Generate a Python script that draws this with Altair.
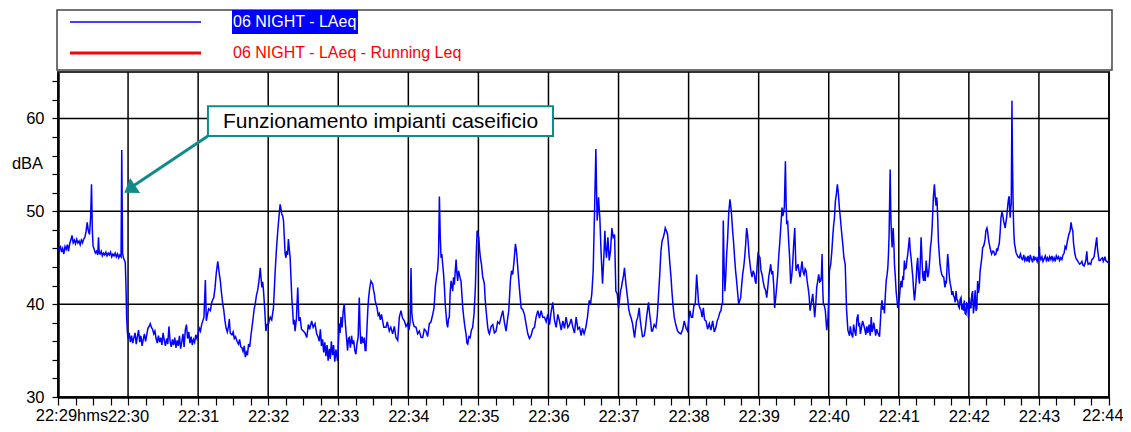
import altair as alt
import pandas as pd

FONT = "Liberation Sans, Arial, sans-serif"
TEAL = "#128a8a"
BLUE = "#0000ff"

# ---- axis / tick definitions -------------------------------------------------
minute_labels = ["22:29hms", "22:30", "22:31", "22:32", "22:33", "22:34", "22:35", "22:36",
                 "22:37", "22:38", "22:39", "22:40", "22:41", "22:42", "22:43", "22:44"]
x_tick_seconds = list(range(0, 901, 15))
grid_minutes = list(range(60, 901, 60))
y_tick_values = list(range(30, 65, 2))
grid_levels = [40, 50, 60]
x_domain = [0, 900]
y_domain = [30, 65]

legend_labels = ["06 NIGHT - LAeq", "06 NIGHT - LAeq - Running Leq"]
legend_colors = ["#0000ff", "#ff0000"]

annotation_text = "Funzionamento impianti caseificio"
annotation_box = {"t0": 128.4, "t1": 423.9, "v0": 58.1, "v1": 61.3}
arrow_tip = {"t": 56.8, "v": 52.0}

# ---- LAeq series: (seconds after 22:29:00, dBA) ------------------------------
seg_2229 = [(0, 46.1), (1, 45.8), (2, 46.3), (3, 45.6), (4, 46.0), (5, 45.4), (6, 46.2), (7, 45.9),
            (8, 46.4), (9, 45.7), (10, 46.5), (11, 46.9), (12, 47.4), (13, 46.6), (14, 46.9), (15, 46.5),
            (16, 47.0), (17, 46.6), (18, 46.8), (19, 46.4), (20, 46.9), (21, 46.6), (22, 47.0), (23, 47.2),
            (24, 47.8), (25, 48.8), (26, 47.9), (27, 47.5), (28, 49.5), (28.7, 52.9), (29.4, 48.0), (30, 46.3),
            (31, 45.9), (32, 45.5), (33, 45.7), (34, 45.3), (34.7, 47.2), (35.3, 45.5), (36, 45.4), (37, 45.7),
            (38, 45.2), (39, 45.5), (40, 45.3), (41, 45.6), (42, 45.2), (43, 45.5), (44, 45.3), (45, 45.6),
            (46, 45.1), (47, 45.4), (48, 45.2), (49, 45.5), (50, 45.1), (51, 45.4), (52, 45.0), (53, 45.3),
            (54, 45.1), (54.6, 56.6), (55.3, 45.5), (56, 45.0), (57, 44.7), (57.6, 44.5), (58.2, 42.0),
            (58.8, 38.5), (59.4, 37.0)]
seg_2230 = [(60, 36.3), (61, 36.9), (62, 35.9), (63, 36.6), (64, 35.8), (65, 36.4), (66, 36.9), (67, 35.7),
            (68, 36.5), (69, 37.2), (70, 35.9), (71, 36.6), (72, 35.5), (73, 36.2), (74, 36.8), (75, 36.0),
            (76, 36.7), (77, 37.4), (78, 37.6), (79, 37.9), (80, 37.5), (81, 37.3), (82, 36.8), (83, 37.1),
            (84, 36.3), (85, 35.8), (86, 36.6), (87, 35.9), (88, 36.4), (89, 35.6), (90, 36.9), (91, 36.1),
            (92, 35.5), (93, 36.3), (94, 35.7), (95, 37.6), (96, 36.0), (97, 35.4), (98, 36.2), (99, 35.6),
            (100, 36.4), (101, 35.3), (102, 36.1), (103, 35.5), (104, 36.6), (105, 35.2), (106, 35.9),
            (107, 36.8), (108, 35.4), (109, 37.2), (110, 37.8), (111, 36.3), (112, 37.0), (113, 35.8),
            (114, 36.5), (115, 35.6), (116, 36.2), (117, 35.9), (118, 36.7), (119, 36.3)]
seg_2231 = [(120, 36.8), (121, 37.4), (122, 37.1), (123, 37.8), (124, 38.2), (125, 38.6), (126.2, 42.6),
            (127, 38.2), (128, 38.9), (129, 39.5), (130.5, 39.3), (131.5, 40.1), (132.5, 40.5), (133.4, 40.7),
            (134.5, 41.8), (135.5, 43.3), (136.8, 44.6), (138, 43.4), (139, 42.5), (140, 41.2), (141, 40.1),
            (142, 39.3), (143, 38.2), (144, 37.4), (145, 37.0), (146, 37.6), (146.7, 38.4), (147.5, 36.9),
            (149, 36.7), (150, 37.0), (151, 36.3), (152, 36.5), (153.3, 36.0), (154.5, 35.7), (155.5, 36.2),
            (156.5, 35.4), (157.5, 35.3), (158.5, 34.9), (159.5, 35.5), (160.4, 34.3), (161.3, 34.8),
            (162.2, 34.5), (163.2, 35.7), (164.2, 35.4), (165.1, 36.5), (166.1, 37.5), (167, 38.4),
            (168, 39.5), (168.9, 40.0), (170, 41.0), (171, 41.5), (171.8, 42.2), (172.5, 43.0), (173.2, 43.9),
            (174, 42.6), (174.6, 41.8), (175.3, 42.4), (176, 41.4), (177, 39.5), (178, 37.1), (179, 37.8)]
seg_2232 = [(180.3, 37.9), (181.7, 38.6), (183, 38.3), (184.5, 39.6), (186, 43.6), (187, 45.8), (188.2, 47.9),
            (189.3, 49.5), (190.2, 50.75), (191, 50.2), (191.6, 49.7), (192.4, 49.5), (193.1, 49.0),
            (193.8, 47.2), (194.5, 45.4), (195.2, 45.0), (195.9, 45.7), (196.6, 45.3), (197.3, 47.0),
            (198, 46.0), (198.8, 45.0), (199.5, 42.8), (200.2, 40.7), (201, 39.2), (201.6, 37.8), (202.3, 38.3),
            (203, 37.1), (204.2, 38.5), (205.3, 41.8), (206.3, 38.2), (207.3, 38.6), (208.5, 37.3),
            (210.1, 37.1), (211.5, 36.9), (213, 36.4), (214.4, 37.8), (215.5, 37.3), (217.2, 38.2),
            (218.5, 37.5), (220.1, 37.9), (221.5, 36.8), (222.9, 36.4), (223.7, 36.0), (224.7, 37.3),
            (225.6, 35.5), (226.6, 36.2), (227.5, 34.8), (228.5, 35.9), (229.4, 34.4), (230.4, 35.6),
            (231.3, 33.9), (232.3, 35.2), (233.2, 34.1), (234.1, 36.0), (235.1, 34.5), (236, 35.6),
            (237, 33.8), (238, 35.1), (239.4, 33.9)]
seg_2233 = [(240.9, 37.9), (241.6, 36.9), (242.3, 38.6), (243.3, 37.5), (244.2, 39.2), (245.1, 40.0),
            (245.8, 38.4), (246.6, 37.1), (247.3, 36.0), (248, 35.0), (248.7, 36.3), (249.4, 36.4),
            (250.4, 35.3), (251.4, 36.6), (252.3, 35.7), (253.2, 36.1), (254.2, 35.0), (255.1, 34.6),
            (256.1, 35.8), (257, 36.4), (258, 40.7), (258.7, 37.2), (259.4, 35.7), (260.4, 36.5),
            (261.3, 35.8), (262.3, 36.4), (263, 35.0), (263.7, 35.0), (264.6, 37.5), (265.3, 39.4),
            (266, 40.7), (267, 41.8), (268, 42.5), (268.7, 42.3), (269.4, 42.2), (270.2, 41.5), (270.9, 41.1),
            (271.6, 40.4), (272.3, 40.0), (273.2, 39.6), (274.2, 38.8), (275.1, 39.0), (276, 38.3),
            (277, 38.9), (278, 38.2), (279, 37.5), (280.9, 37.5), (282, 38.1), (283.7, 37.1), (285, 37.5),
            (286.6, 36.8), (288, 37.6), (289.4, 36.4), (290.9, 36.1), (292.3, 38.6), (293.7, 39.3),
            (295, 38.5), (296.6, 38.2), (298, 37.6), (299.4, 37.9)]
seg_2234 = [(300.5, 37.2), (301.5, 38.0), (302.3, 43.9), (303, 39.0), (303.7, 38.2), (305, 37.6),
            (306.6, 37.5), (308, 36.8), (309.4, 37.1), (311, 36.4), (312.3, 36.4), (313.7, 37.3),
            (315.1, 37.1), (316.5, 36.5), (318, 37.9), (319.4, 38.1), (320.9, 38.9), (322, 39.6),
            (323.1, 41.8), (324.1, 42.9), (325.1, 43.6), (325.9, 45.5), (326.6, 51.6), (327.3, 47.5),
            (328, 45.0), (328.7, 45.4), (329.4, 44.3), (330.2, 43.2), (330.9, 41.8), (331.6, 40.0),
            (332.3, 38.9), (333, 37.9), (333.7, 37.5), (334.4, 38.4), (335.1, 38.6), (335.8, 41.2),
            (336.6, 42.5), (337.3, 42.0), (338, 41.4), (338.7, 42.9), (339.4, 42.1), (340.2, 43.6),
            (340.9, 44.8), (341.6, 43.3), (342.3, 42.5), (343, 43.6), (343.7, 43.2), (344.4, 42.8),
            (345.1, 42.5), (345.9, 41.0), (346.6, 39.6), (347.5, 38.5), (348.5, 37.5), (349.4, 36.8),
            (350.2, 35.8), (350.9, 35.7), (351.9, 36.5), (352.9, 36.4), (354, 37.2), (355.1, 37.5),
            (356.3, 39.0), (357.4, 41.8), (358.2, 45.5), (358.9, 47.9), (359.6, 47.5)]
seg_2235 = [(360.3, 47.2), (361, 45.9), (361.7, 45.0), (362.7, 44.2), (363.7, 42.9), (364.4, 42.6),
            (365.1, 42.2), (365.8, 40.5), (366.6, 39.3), (367.3, 38.4), (368, 37.5), (368.7, 37.0),
            (369.4, 36.8), (370.9, 37.6), (372.3, 37.8), (373.7, 36.9), (375.1, 37.1), (376.5, 38.1),
            (378, 37.9), (379.4, 38.6), (380.9, 39.3), (382.3, 38.0), (383.7, 37.1), (385, 38.4), (386, 39.3),
            (387.4, 42.5), (388.4, 43.6), (389.4, 43.2), (390.5, 44.6), (391.7, 46.5), (392.4, 45.9),
            (393.1, 45.0), (393.8, 43.8), (394.6, 42.5), (395.6, 41.0), (396.6, 39.6), (398, 39.4),
            (399.4, 38.9), (400.9, 37.8), (402.3, 36.8), (403.7, 36.3), (405.1, 36.6), (406.5, 37.3),
            (408, 37.5), (409.4, 38.6), (410.9, 39.3), (412.3, 38.5), (413.7, 39.3), (415.1, 38.6),
            (416.6, 38.6), (418, 38.1), (419.4, 38.9)]
seg_2236 = [(420.9, 37.8), (422.3, 39.2), (423.7, 40.2), (425.1, 38.3), (426.6, 37.5), (428, 38.9),
            (429.4, 38.2), (430.9, 37.2), (432.3, 38.2), (433.7, 37.4), (435.1, 38.6), (436.6, 37.5),
            (438, 37.8), (439.5, 38.4), (440.9, 37.5), (442.3, 36.9), (443.7, 38.6), (445.2, 37.3),
            (446.6, 37.5), (448, 36.6), (449.1, 37.4), (450.5, 36.8), (452, 37.5), (453.4, 38.6),
            (454.9, 40.4), (456, 40.0), (457.1, 41.1), (458.3, 43.6), (459.4, 49.7), (460.6, 56.7),
            (461.2, 52.0), (461.7, 49.0), (462.3, 50.0), (462.9, 51.5), (463.5, 50.2), (464, 49.3),
            (465.1, 45.4), (466.3, 42.2), (467.4, 45.0), (468.3, 47.9), (469, 46.0), (469.7, 45.0),
            (470.9, 47.2), (472, 44.7), (473.1, 45.7), (474.3, 48.2), (475.4, 47.2), (476.6, 47.5),
            (477.7, 41.4), (478.9, 41.1)]
seg_2237 = [(480, 39.6), (480.8, 40.4), (481.7, 41.4), (482.5, 41.8), (483.4, 42.5), (484.3, 43.1),
            (485.1, 43.9), (486.3, 42.2), (487.7, 40.7), (488.7, 39.5), (489.7, 38.9), (490.8, 38.5),
            (492, 37.9), (493.7, 36.4), (495.4, 38.2), (496.5, 38.6), (497.7, 39.6), (498.5, 38.4),
            (499.4, 37.5), (500.5, 36.5), (502, 36.6), (503, 37.4), (504, 38.6), (505.7, 40.2), (506.5, 39.1),
            (507.4, 38.2), (508.3, 37.1), (509.1, 37.1), (510.5, 37.8), (512, 37.5), (513.2, 38.8),
            (514.3, 41.1), (515.3, 43.2), (516.3, 45.7), (517.3, 46.8), (518.3, 47.2), (519.2, 47.6),
            (520, 48.2), (521, 47.9), (522, 47.5), (523, 46.0), (524, 44.3), (525, 42.8), (525.7, 41.4),
            (526.7, 39.8), (527.7, 38.6), (529, 37.8), (530.6, 37.1), (532, 36.9), (533.4, 36.8),
            (535, 37.3), (536.3, 38.2), (537.8, 37.4), (539.1, 37.1)]
seg_2238 = [(540.2, 38.4), (541.1, 39.3), (542.3, 38.6), (543.4, 38.6), (544.5, 39.8), (545.7, 40.0),
            (546.9, 43.2), (547.8, 41.5), (548.6, 40.0), (549.6, 39.6), (550.6, 39.3), (551.6, 38.6),
            (552.6, 39.6), (553.7, 38.3), (554.9, 38.2), (556.3, 37.3), (557.7, 37.9), (559.1, 37.2),
            (560.6, 38.2), (562, 37.0), (563.4, 37.5), (564.5, 38.2), (565.7, 38.6), (566.7, 39.1),
            (567.7, 39.3), (568.5, 40.0), (569.1, 40.0), (569.7, 49.0), (570.4, 44.0), (571.1, 41.4),
            (571.8, 43.0), (572.6, 45.4), (573.4, 47.0), (574.3, 49.7), (575.4, 51.3), (576.6, 50.0),
            (577.7, 47.9), (578.6, 46.5), (579.4, 45.0), (580.3, 43.5), (581.1, 42.5), (582, 41.2),
            (582.9, 40.0), (583.8, 40.4), (584.6, 40.7), (585.4, 42.0), (586.3, 43.2), (587.2, 44.0),
            (588, 45.0), (588.9, 46.5), (589.7, 48.2), (590.4, 47.6), (591.1, 46.5), (591.8, 45.2),
            (592.6, 44.3), (593.4, 43.5), (594.3, 42.9), (595.3, 43.6), (596.3, 43.2), (597, 42.5),
            (597.7, 42.2), (598.6, 44.0), (599.4, 45.4)]
seg_2239 = [(600.3, 45.2), (601.1, 45.0), (602, 43.6), (602.9, 43.2), (603.9, 42.4), (604.9, 41.8),
            (605.9, 41.5), (606.9, 40.7), (607.8, 41.8), (608.6, 42.9), (609.5, 43.6), (610.3, 44.3),
            (611.2, 43.2), (612, 43.6), (612.9, 42.0), (613.7, 39.6), (614.6, 40.7), (615.4, 41.8),
            (616.3, 43.2), (617.1, 45.0), (618, 46.5), (618.9, 48.2), (620, 50.4), (620.6, 49.5),
            (621.1, 49.7), (622, 50.5), (622.9, 55.4), (623.5, 51.0), (624, 48.6), (624.8, 49.0),
            (625.7, 46.8), (626.6, 44.8), (627.4, 42.2), (628.3, 43.0), (629.1, 44.3), (630, 46.5),
            (630.9, 48.2), (631.4, 46.0), (632, 43.6), (632.9, 44.0), (633.7, 44.3), (634.6, 43.5),
            (635.4, 42.9), (636.3, 43.8), (637.1, 44.6), (638, 43.5), (638.9, 43.2), (639.8, 43.8),
            (640.6, 43.6), (641.5, 42.5), (642.3, 41.8), (643.2, 40.9), (644, 39.3), (645.2, 40.2),
            (646.3, 41.1), (647.2, 39.8), (648, 38.6), (648.9, 40.0), (649.7, 41.8), (650.6, 42.5),
            (651.4, 43.2), (652.3, 42.4), (653.1, 42.5), (653.7, 43.0), (654.3, 45.4), (654.9, 41.5),
            (655.4, 40.0), (656.3, 39.8), (657.1, 39.3), (657.7, 38.2), (658.3, 37.2), (659.4, 38.6)]
seg_2240 = [(660.1, 41.0), (660.6, 43.6), (661.2, 44.0), (661.7, 44.3), (662.6, 45.6), (663.4, 47.2),
            (664.2, 48.5), (664.9, 49.3), (665.7, 51.1), (666.5, 51.8), (667.4, 52.9), (668.2, 52.0),
            (669.1, 50.4), (670, 49.2), (670.9, 47.9), (672, 46.5), (673, 45.0), (674.1, 44.3), (675.3, 39.3),
            (676.4, 37.2), (677.8, 36.6), (678.5, 37.6), (679.3, 36.9), (680.5, 36.4), (681.3, 37.8),
            (682.1, 37.2), (683.2, 36.6), (684.1, 38.4), (685, 38.9), (685.7, 37.6), (686.4, 38.0),
            (687.1, 36.8), (687.8, 37.3), (689, 38.2), (690.7, 37.4), (691.8, 36.7), (692.6, 37.6),
            (693.5, 36.9), (694.6, 37.8), (695.5, 36.6), (696.4, 38.6), (697.1, 37.0), (697.8, 37.3),
            (698.5, 38.0), (699.2, 37.5), (700.2, 36.6), (701.1, 37.3), (702.1, 36.9), (703.5, 36.5),
            (704.9, 39.6), (705.6, 40.4), (706.3, 39.4), (707.1, 39.8), (707.7, 39.0), (708.5, 41.0),
            (709.2, 42.5), (710, 43.2), (710.6, 43.9), (711.2, 45.5), (711.7, 47.5), (712.6, 54.5),
            (713.1, 50.0), (713.4, 48.6), (713.9, 47.0), (714.3, 46.1), (714.8, 47.4), (715.2, 48.2),
            (715.8, 46.5), (716.3, 44.3), (717, 43.0), (717.7, 41.4), (718.4, 40.5), (719.1, 39.6)]
seg_2241 = [(719.9, 40.2), (720.6, 40.7), (721.3, 42.0), (722, 42.5), (722.7, 41.8), (723.4, 42.9),
            (724.1, 42.8), (724.8, 44.7), (725.5, 43.8), (726.3, 43.9), (727, 44.8), (727.7, 45.4),
            (728.4, 46.3), (729.1, 47.2), (729.8, 45.8), (730.5, 45.0), (731.2, 44.0), (732, 42.9),
            (732.7, 41.5), (733.4, 40.4), (734.1, 41.3), (734.8, 42.5), (735.5, 44.2), (736.2, 45.0),
            (736.9, 43.0), (737.7, 42.2), (738.4, 44.5), (739.1, 47.2), (739.8, 45.0), (740.5, 43.0),
            (741.2, 42.5), (741.9, 43.6), (742.7, 42.5), (743.4, 44.7), (744.1, 43.8), (744.8, 42.9),
            (745.5, 43.3), (746.2, 44.3), (747.1, 46.1), (747.8, 46.8), (748.5, 48.2), (749.1, 50.0),
            (749.6, 51.5), (750.1, 52.3), (750.5, 52.9), (751.2, 51.5), (751.9, 50.6), (752.4, 51.5),
            (752.8, 51.0), (753.4, 49.0), (753.9, 46.8), (754.6, 45.5), (755.3, 44.3), (756.1, 43.6),
            (756.8, 43.2), (757.6, 43.0), (758.5, 42.9), (759.1, 42.2), (759.6, 41.8), (760.2, 42.5),
            (760.7, 42.2), (761.3, 44.0), (761.9, 45.4), (762.6, 44.2), (763.3, 42.9), (764, 42.2),
            (764.7, 41.8), (765.5, 41.0), (766.2, 41.4), (766.9, 40.9), (767.6, 40.7), (768.3, 40.2),
            (769, 41.4), (769.7, 40.5), (770.4, 40.4), (771.1, 39.8), (771.8, 39.6), (772.5, 40.5),
            (773.3, 40.7), (774, 39.4), (774.7, 40.0), (775.4, 39.3), (776.1, 40.4), (776.8, 39.0),
            (777.5, 38.9), (778.2, 40.1), (779, 40.0), (779.7, 38.5)]
seg_2242 = [(780.4, 40.7), (781.1, 39.6), (781.8, 39.6), (782.5, 41.0), (783.2, 41.4), (783.9, 39.0),
            (784.7, 40.0), (785.4, 41.5), (786.1, 39.3), (786.8, 39.5), (787.5, 42.5), (788.2, 41.2),
            (788.9, 41.8), (789.6, 43.5), (790.4, 44.3), (791.1, 45.0), (791.8, 46.1), (792.5, 46.2),
            (793.2, 46.5), (793.9, 47.0), (794.6, 47.9), (795.5, 48.2), (796.1, 47.8), (796.6, 47.2),
            (797.3, 46.6), (798.1, 46.1), (798.8, 45.7), (799.5, 45.4), (800.3, 45.7), (801.2, 45.7),
            (802.2, 45.3), (803.2, 45.4), (803.9, 46.0), (804.6, 45.7), (805.3, 46.2), (806, 46.5),
            (806.7, 47.6), (807.5, 49.3), (808.3, 49.9), (809, 49.6), (809.7, 49.0), (810.4, 48.6),
            (811.1, 48.2), (811.7, 48.8), (812.3, 49.3), (813, 50.2), (813.7, 51.1), (814.2, 51.5),
            (814.6, 51.6), (815, 50.0), (815.4, 49.3), (815.9, 50.5), (816.3, 50.75), (816.9, 61.9),
            (817.3, 56.0), (817.7, 52.2), (818.2, 49.0), (818.6, 47.5), (819.1, 46.5), (819.7, 46.1),
            (820.3, 45.6), (820.9, 45.4), (822, 45.1), (823.1, 45.0), (824.2, 45.4), (825.1, 44.9),
            (826, 44.8), (827, 45.3), (827.9, 44.7), (828.8, 45.0), (829.8, 44.6), (830.7, 45.2),
            (831.7, 44.5), (832.6, 45.3), (833.5, 44.9), (834.5, 44.5), (835.5, 45.2), (836.4, 44.8),
            (837.4, 45.0), (838.5, 44.6), (839.4, 45.1)]
seg_2243 = [(839.9, 44.8), (840.4, 46.2), (840.8, 45.2), (841.7, 44.8), (842.6, 45.1), (843.5, 44.6),
            (844.5, 44.9), (845.5, 45.2), (846.4, 44.7), (847.4, 45.0), (848.3, 44.6), (849.2, 45.1),
            (850.2, 44.8), (851.1, 45.2), (852, 44.7), (853, 45.0), (854, 44.6), (854.9, 45.2), (855.9, 44.9),
            (856.8, 45.1), (857.7, 44.7), (858.7, 45.0), (859.7, 44.8), (860.6, 45.3), (861.6, 45.5),
            (862.4, 46.2), (863.3, 46.0), (864.4, 46.8), (865.6, 47.5), (866.7, 47.9), (867.5, 48.8),
            (868.2, 48.2), (869, 47.9), (869.6, 46.6), (870.1, 46.1), (870.8, 45.4), (871.6, 45.0),
            (872.3, 44.8), (873, 44.7), (873.9, 44.5), (874.9, 44.3), (875.8, 44.4), (876.8, 44.6),
            (877.7, 44.2), (878.7, 44.1), (879.5, 44.4), (880.3, 44.9), (881, 45.7), (881.6, 44.6),
            (882.1, 44.3), (883.2, 44.4), (884.4, 44.3), (885.3, 44.8), (886.3, 44.9), (887.2, 45.1),
            (888, 45.8), (888.7, 46.5), (889.5, 47.2), (890.1, 46.0), (890.7, 45.4), (891.5, 44.7),
            (892.4, 44.7), (893.4, 44.9), (894.4, 45.0), (895.1, 44.6), (895.8, 44.8), (896.5, 45.1),
            (897.2, 44.7), (898.1, 44.6), (899, 44.5), (900, 44.4)]

segments = [seg_2229, seg_2230, seg_2231, seg_2232, seg_2233, seg_2234, seg_2235, seg_2236,
            seg_2237, seg_2238, seg_2239, seg_2240, seg_2241, seg_2242, seg_2243]
df = pd.DataFrame([(t, v) for seg in segments for t, v in seg], columns=["t", "dba"])

# ---- scales and axes ----------------------------------------------------------
LABEL_SIZE = 16.5
x_scale = alt.Scale(domain=x_domain, nice=False, zero=False)
y_scale = alt.Scale(domain=y_domain, nice=False, zero=False)
labels_js = "[" + ",".join("'%s'" % s for s in minute_labels) + "]"

x_axis = alt.Axis(
    values=x_tick_seconds,
    labelExpr="(datum.value % 60 == 0 && datum.value > 0 && datum.value < 900) ? "
              + labels_js + "[round(datum.value / 60)] : ''",
    grid=False,
    domainColor="#000000", domainWidth=2.5,
    tickColor="#000000", tickWidth=1.2, tickSize=8,
    labelFont=FONT, labelFontSize=LABEL_SIZE, labelColor="#000000", labelPadding=3,
    labelOverlap=False, labelFlush=False, title=None,
)
y_axis = alt.Axis(
    values=y_tick_values,
    labelExpr="datum.value % 10 == 0 ? datum.label : ''",
    grid=False,
    domainColor="#000000", domainWidth=2.5,
    tickColor="#000000", tickWidth=1.2, tickSize=6,
    labelFont=FONT, labelFontSize=LABEL_SIZE, labelColor="#000000", labelPadding=8,
    labelOverlap=False, labelFlush=False,
    title="dBA", titleAngle=0, titleX=-31, titleY=91, titleAlign="center", titleBaseline="middle",
    titleFont=FONT, titleFontSize=LABEL_SIZE, titleFontWeight="normal", titleColor="#000000",
)

line = alt.Chart(df).mark_line(color=BLUE, strokeWidth=1.5).encode(
    x=alt.X("t:Q", scale=x_scale, axis=x_axis),
    y=alt.Y("dba:Q", scale=y_scale, axis=y_axis),
)

# ---- grid lines ------------------------------------------------------------------
vgrid = alt.Chart(pd.DataFrame({"g": grid_minutes})).mark_rule(color="#000000", strokeWidth=1.5).encode(
    x=alt.X("g:Q", scale=x_scale, axis=None))
hgrid = alt.Chart(pd.DataFrame({"g": grid_levels})).mark_rule(color="#000000", strokeWidth=1.5).encode(
    y=alt.Y("g:Q", scale=y_scale, axis=None))

# first and last time labels, nudged like the original
first_label = alt.Chart(pd.DataFrame({"t": [x_domain[0]], "lab": [minute_labels[0]]})).mark_text(
    font=FONT, fontSize=LABEL_SIZE, baseline="top", align="center", dx=14, color="#000000",
).encode(x=alt.X("t:Q", scale=x_scale, axis=None), y=alt.value(336), text="lab:N")
last_label = alt.Chart(pd.DataFrame({"t": [x_domain[1]], "lab": [minute_labels[-1]]})).mark_text(
    font=FONT, fontSize=LABEL_SIZE, baseline="top", align="center", dx=-6, color="#000000",
).encode(x=alt.X("t:Q", scale=x_scale, axis=None), y=alt.value(336), text="lab:N")

# ---- annotation ----------------------------------------------------------------
ann = dict(annotation_box)
ann["tm"] = (ann["t0"] + ann["t1"]) / 2
ann["vm"] = (ann["v0"] + ann["v1"]) / 2
ann["label"] = annotation_text
ann_df = pd.DataFrame([ann])

box = alt.Chart(ann_df).mark_rect(fill="white", stroke=TEAL, strokeWidth=2).encode(
    x=alt.X("t0:Q", scale=x_scale, axis=None), x2="t1:Q",
    y=alt.Y("v0:Q", scale=y_scale, axis=None), y2="v1:Q",
)
box_text = alt.Chart(ann_df).mark_text(font=FONT, fontSize=21, color="black", baseline="middle", dy=1).encode(
    x=alt.X("tm:Q", scale=x_scale, axis=None),
    y=alt.Y("vm:Q", scale=y_scale, axis=None),
    text="label:N",
)
arrow_df = pd.DataFrame([{"t0": annotation_box["t0"], "v0": annotation_box["v0"],
                          "t1": arrow_tip["t"] + 6, "v1": arrow_tip["v"] + 0.6,
                          "tt": arrow_tip["t"], "vt": arrow_tip["v"]}])
arrow_line = alt.Chart(arrow_df).mark_rule(color=TEAL, strokeWidth=3).encode(
    x=alt.X("t0:Q", scale=x_scale, axis=None), x2="t1:Q",
    y=alt.Y("v0:Q", scale=y_scale, axis=None), y2="v1:Q",
)
arrow_head = alt.Chart(arrow_df).mark_point(
    shape="M0,0 L-0.9,1.3 L0.9,1.3 Z", filled=True, size=400, angle=236,
    color=TEAL, opacity=1, strokeWidth=0,
).encode(
    x=alt.X("tt:Q", scale=x_scale, axis=None),
    y=alt.Y("vt:Q", scale=y_scale, axis=None),
)

# ---- legend box above the plot (pixel layout) ---------------------------------------
one = pd.DataFrame({"k": [0]})
legend_layers = [
    alt.Chart(one).mark_rect(fill="white", stroke="#444444", strokeWidth=1.5).encode(
        x=alt.value(-1), x2=alt.value(1054), y=alt.value(-62), y2=alt.value(-2)),
    alt.Chart(one).mark_rect(fill=BLUE).encode(
        x=alt.value(174), x2=alt.value(300), y=alt.value(-62), y2=alt.value(-38)),
]
row_y = [-50, -19]
line_w = [1.5, 3]
text_col = ["white", legend_colors[1]]
for i, lab in enumerate(legend_labels):
    legend_layers.append(
        alt.Chart(one).mark_rule(color=legend_colors[i], strokeWidth=line_w[i]).encode(
            x=alt.value(12), x2=alt.value(143), y=alt.value(row_y[i]))
    )
    legend_layers.append(
        alt.Chart(one).mark_text(font=FONT, fontSize=16, align="left", baseline="middle",
                                 color=text_col[i]).encode(
            x=alt.value(175), y=alt.value(row_y[i]), text=alt.value(lab))
    )

chart = alt.layer(
    vgrid, hgrid, line, box, box_text, arrow_line, arrow_head, first_label, last_label, *legend_layers
).resolve_axis(x="independent", y="independent").properties(
    width=1051, height=325,
    padding={"left": 50, "top": 64, "right": 14, "bottom": 27},
    autosize=alt.AutoSizeParams(type="none"),
).configure(background="white").configure_view(stroke="#333333", strokeWidth=2)

chart.save("out.html", embed_options={"renderer": "svg", "actions": False})
